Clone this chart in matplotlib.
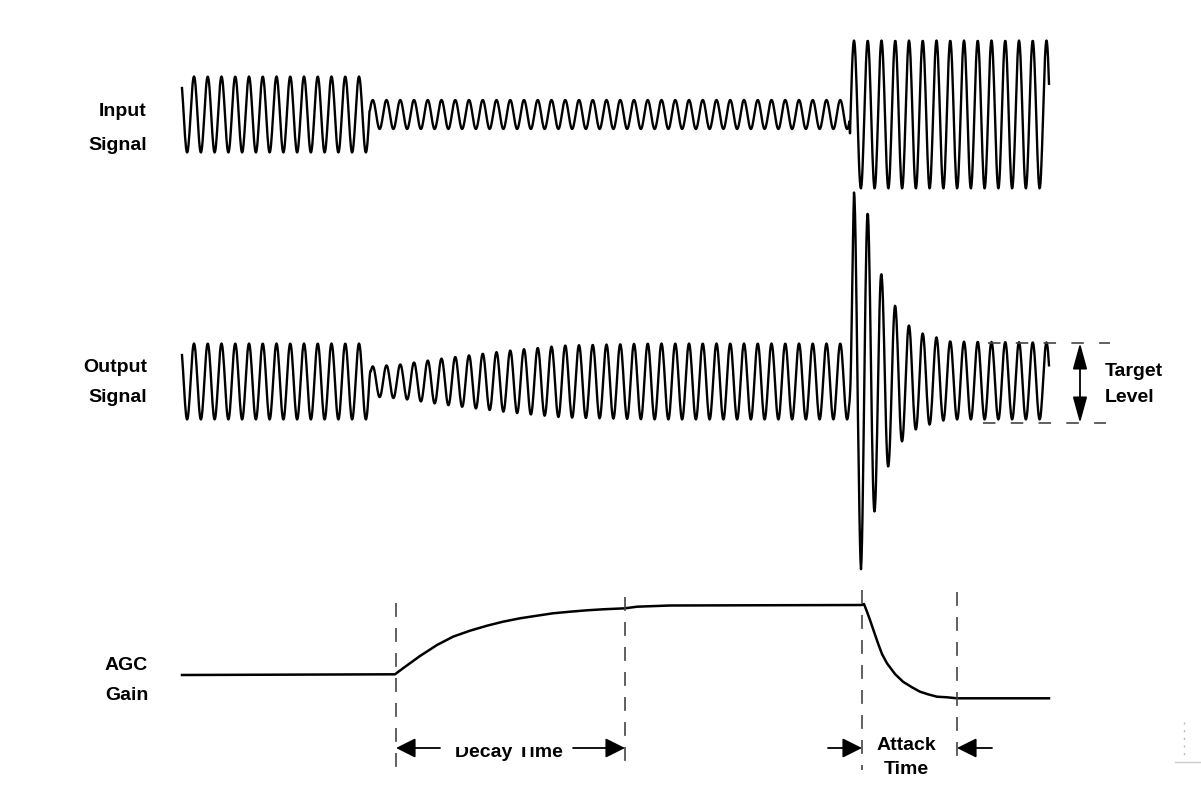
import numpy as np
import matplotlib
matplotlib.use('Agg')
import matplotlib.pyplot as plt
from matplotlib.transforms import Bbox

plt.rcParams['font.family'] = ['Liberation Sans', 'DejaVu Sans']
plt.rcParams['lines.scale_dashes'] = False

# carrier (pixel units of the drawing)
carrier_period = 13.75
first_peak_x = 194.0
x_start, x_end = 182.0, 1049.0

# input signal: segment breaks and amplitudes
input_center = 114.5
input_breaks = [182, 370, 850, 1049]
input_amps = [38, 14.5, 74]

# output signal envelope (top / bottom amplitude about the centre)
output_center = 381.5
out_top_x = [182, 369, 371, 400, 442, 510, 563, 650, 849, 854, 868, 882, 896, 909, 923, 937, 951, 1049]
out_top_vals = [38, 38, 15, 17, 23, 31, 36, 38, 38, 189, 168, 105, 74, 56, 48, 44, 40, 39]
out_bot_x = [182, 369, 371, 400, 442, 510, 563, 650, 849, 861, 875, 889, 902, 916, 930, 944, 958, 1049]
out_bot_vals = [38, 38, 15, 17, 23, 31, 36, 38, 38, 188, 128, 83, 60, 48, 43, 39, 38, 38]

# AGC gain curve
gain_x = [182, 395, 403, 420, 437, 453, 470, 487, 503, 520, 537, 553, 570, 587, 603,
          625, 637, 670, 862, 864, 867, 870, 874, 878, 882, 887, 895, 903, 912, 920,
          928, 937, 947, 957, 1049]
gain_y = [675, 674.3, 668.3, 656, 645, 636.7, 630.7, 625.7, 621.7, 618.3, 615.7, 613.3,
          611.7, 610.3, 609.3, 608.3, 606.7, 605.5, 605, 604, 611.7, 620, 631.7, 643.3,
          654, 663.3, 674, 681.7, 687.3, 691.7, 694.3, 696.7, 697.3, 698.3, 698.3]

# markers
vlines_x = [396, 625, 862, 957]
vlines_top = [603, 597, 590, 592]
vlines_bot = [772, 765, 770, 760]
target_top, target_bot = 343, 423


def carrier(x):
    return np.cos(2 * np.pi * (x - first_peak_x) / carrier_period)


x = np.arange(x_start, x_end + 0.5, 0.5)
c = carrier(x)

# input
amp_in = np.zeros_like(x)
for i in range(len(input_amps)):
    m = (x >= input_breaks[i]) & (x <= input_breaks[i + 1])
    amp_in[m] = input_amps[i]
y_in = input_center - amp_in * c

# output
top = np.interp(x, out_top_x, out_top_vals)
bot = np.interp(x, out_bot_x, out_bot_vals)
amp_out = np.where(c >= 0, top, bot)
y_out = output_center - amp_out * c

fig = plt.figure(figsize=(12.01, 7.99), dpi=100)
ax = fig.add_axes([0, 0, 1, 1])
ax.set_xlim(0, 1201)
ax.set_ylim(799, 0)
ax.axis('off')

ax.plot(x, y_in, color='black', lw=1.7)
ax.plot(x, y_out, color='black', lw=1.7)
ax.plot(gain_x, gain_y, color='black', lw=1.8)

dash = (0, (10, 8))
for vx, t, b in zip(vlines_x, vlines_top, vlines_bot):
    ax.plot([vx, vx], [t, b], color='#444444', lw=1.2, linestyle=dash)

# target level dashed lines and arrow
ax.plot([988, 1110], [target_top, target_top], color='#444444', lw=1.2, linestyle=(0, (9, 11)))
ax.plot([983, 1106], [target_bot, target_bot], color='#444444', lw=1.2, linestyle=(0, (9, 11)))
ax.annotate('', xy=(1080, target_top), xytext=(1080, target_bot),
            arrowprops=dict(arrowstyle='<|-|>,head_length=0.8,head_width=0.22',
                            mutation_scale=20, color='black', lw=1.3,
                            shrinkA=0, shrinkB=0))

aprops = dict(arrowstyle='-|>,head_length=0.6,head_width=0.3', mutation_scale=20,
              color='black', lw=1.3, shrinkA=0, shrinkB=0)
ax.annotate('', xy=(396, 748), xytext=(440, 748), arrowprops=aprops)
ax.annotate('', xy=(625, 748), xytext=(573, 748), arrowprops=aprops)
ax.annotate('', xy=(862, 748), xytext=(828, 748), arrowprops=aprops)
ax.annotate('', xy=(957, 748), xytext=(992, 748), arrowprops=aprops)

fs = 14
kw = dict(fontsize=fs, fontweight='bold', color='black', va='center')
ax.text(147, 111, 'Input', ha='right', **kw)
ax.text(147, 145, 'Signal', ha='right', **kw)
ax.text(147, 368, 'Output', ha='right', **kw)
ax.text(147, 398, 'Signal', ha='right', **kw)
ax.text(126, 666, 'AGC', ha='center', **kw)
ax.text(127, 696, 'Gain', ha='center', **kw)
ax.text(1105, 371, 'Target', ha='left', **kw)
ax.text(1105, 398, 'Level', ha='left', **kw)
ax.text(906, 745, 'Attack', ha='center', **kw)
ax.text(906, 770, 'Time', ha='center', **kw)

dt = ax.text(509, 757, 'Decay Time', ha='center', va='baseline',
             fontsize=fs, fontweight='bold', color='black')
p0 = ax.transData.transform((440, 780))
p1 = ax.transData.transform((580, 747))
dt.set_clip_box(Bbox.from_extents(min(p0[0], p1[0]), min(p0[1], p1[1]),
                                  max(p0[0], p1[0]), max(p0[1], p1[1])))
dt.set_clip_on(True)

# small artefact at the lower right
ax.plot([1184, 1184], [722, 760], color='#bbbbbb', lw=1.0, linestyle=(0, (1.5, 4)))
ax.plot([1175, 1201], [762, 762], color='#cccccc', lw=1.0)

fig.savefig('out.png', dpi=100)
